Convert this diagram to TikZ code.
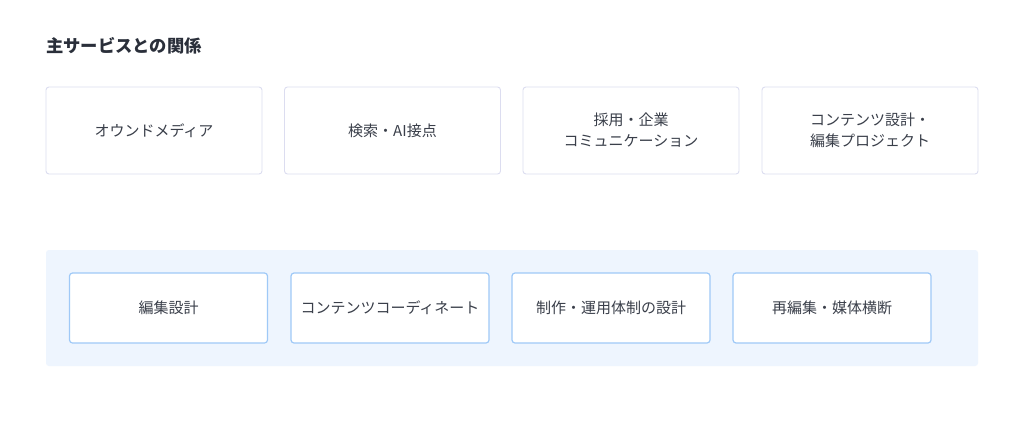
\documentclass[tikz,border=0pt]{standalone}
\usepackage{fontspec}
\newfontfamily\cjk{Noto Sans CJK JP}
\definecolor{txt}{HTML}{3A3F4A}
\definecolor{topbd}{HTML}{DCDDF0}
\definecolor{panel}{HTML}{EEF5FE}
\definecolor{innerbd}{HTML}{9FC9F7}
\definecolor{title}{HTML}{2A2F3A}
\tikzset{
  topbox/.style={draw=topbd, line width=0.9pt, fill=white, rounded corners=3pt, minimum width=216pt, minimum height=87pt, align=center, font=\cjk\fontsize{15pt}{21pt}\selectfont, text=txt, inner sep=0pt},
  innerbox/.style={draw=innerbd, line width=1.2pt, fill=white, rounded corners=3pt, minimum width=198pt, minimum height=70pt, align=center, font=\cjk\fontsize{15pt}{21pt}\selectfont, text=txt, inner sep=0pt},
}
\begin{document}
\begin{tikzpicture}[x=1pt,y=-1pt]
\useasboundingbox[fill=white] (0,0) rectangle (1024,442);
\node[anchor=west, font=\cjk\bfseries\fontsize{17.3pt}{20pt}\selectfont, text=title, inner sep=0pt] (title) at (46,46) {主サービスとの関係};
\node[topbox] (t1) at (154,130.5) {オウンドメディア};
\node[topbox] (t2) at (392.5,130.5) {検索・AI接点};
\node[topbox] (t3) at (631,130.5) {採用・企業\\コミュニケーション};
\node[topbox] (t4) at (870,130.5) {コンテンツ設計・\\編集プロジェクト};
\node[fill=panel, rounded corners=3pt, minimum width=932pt, minimum height=116pt, inner sep=0pt] (panel) at (512,308) {};
\node[innerbox] (b1) at (168.5,308) {編集設計};
\node[innerbox] (b2) at (390,308) {コンテンツコーディネート};
\node[innerbox] (b3) at (611,308) {制作・運用体制の設計};
\node[innerbox] (b4) at (832,308) {再編集・媒体横断};
\end{tikzpicture}
\end{document}
